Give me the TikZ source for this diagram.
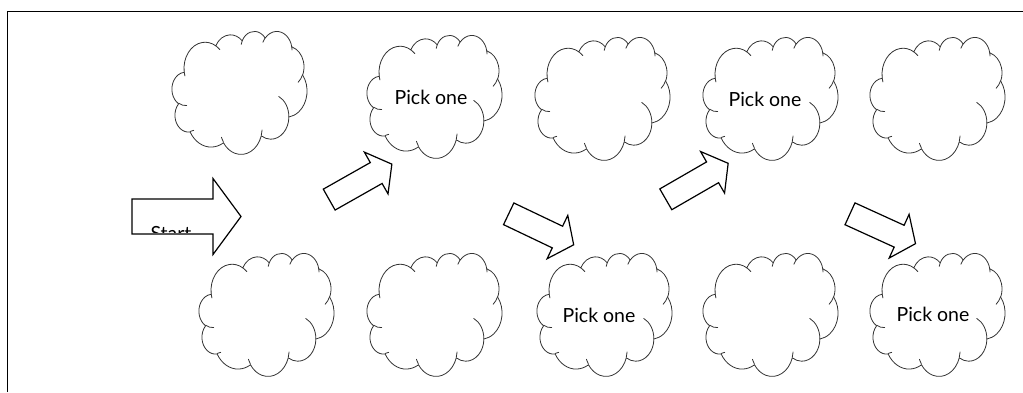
\documentclass[tikz,border=0pt]{standalone}
\usepackage{fontspec}
\newfontfamily\lato{Lato}
\newcommand\drawocloud{%
    \draw[cloudline, fill=white] (3.9,14.37)
      arc[oarc={6.753}{9.19}{-190.4875}{123.7805}]
      arc[oarc={5.333}{7.267}{-144.1024}{89.9452}]
      arc[oarc={4.365}{5.945}{-145.8079}{99.7230}]
      arc[oarc={4.857}{6.595}{-130.9861}{117.2417}]
      arc[oarc={5.333}{7.273}{-78.7089}{109.0269}]
      arc[oarc={6.775}{9.22}{-46.2673}{130.2690}]
      arc[oarc={5.785}{7.867}{0.6250}{114.0333}]
      arc[oarc={6.752}{9.215}{22.4516}{115.1726}]
      arc[oarc={7.72}{10.543}{66.2426}{75.7110}]
      arc[oarc={4.36}{5.918}{-274.9421}{146.7356}]
      arc[oarc={4.345}{5.945}{-246.8285}{152.5189}]
      -- cycle;
    \draw[cloudline]
      (4.693,26.177) arc[oarc={4.345}{5.945}{86.7420}{26.4295}]
      (6.928,34.899) arc[oarc={4.36}{5.918}{73.6105}{11.4475}]
      (16.478,39.09) arc[oarc={6.752}{9.215}{137.6242}{14.0811}]
      (28.827,34.751) arc[oarc={6.752}{9.215}{6.4533}{15.9984}]
      (34.129,22.954) arc[oarc={5.785}{7.867}{-70.2924}{70.9174}]
      (41.798,15.354) arc[oarc={5.333}{7.273}{30.3180}{27.7515}]
      (38.324,5.426) arc[oarc={4.857}{6.595}{-13.7443}{14.8589}]
      (29.078,3.952) arc[oarc={4.857}{6.595}{-149.1815}{18.1954}]
      (22.141,4.72) arc[oarc={4.365}{5.945}{-163.4943}{17.6864}]
      (14.0,5.192) arc[oarc={6.753}{9.19}{-66.7070}{12.3194}]
      (4.127,15.789) arc[oarc={6.753}{9.19}{157.6544}{11.8582}];
}
\begin{document}
\begin{tikzpicture}[x=1pt,y=1pt,yscale=-1,
  declare function={pa(\xw,\xh,\xa)=atan2(\xw*sin(\xa),\xh*cos(\xa));
    pd(\xw,\xh,\xa,\xs)=mod(pa(\xw,\xh,\xa+\xs)-pa(\xw,\xh,\xa)+720,360);},
  cloudline/.style={draw=black!80, line width=0.8pt, line join=round, line cap=round},
  oarc/.style n args={4}{x radius=#1pt, y radius=#2pt, start angle={pa(#1,#2,#3)}, delta angle={pd(#1,#2,#3,#4)}},
  blk/.style={draw=black, line width=1.2pt, fill=white, line join=miter},
  lbl/.style={font=\lato\fontsize{19.5}{20}\selectfont, inner sep=0pt, anchor=base}]
\useasboundingbox (0,0) rectangle (1023,392);
% frame
\draw[line width=1.5pt] (7.5,392) -- (7.5,11.5) -- (1023,11.5);
% clouds, top row
\foreach \cx/\cy [count=\i] in {172/31,367/35,535/37,703/37,870/37}{
  \begin{scope}[shift={(\cx,\cy)}, xscale=3.125, yscale=2.847]
    \drawocloud
  \end{scope}
  \coordinate (top\i) at (\cx+67.5,\cy+61.5);
}
% clouds, bottom row
\foreach \cx/\cy [count=\i] in {199/253,367/253,537/253,703/253,870/253}{
  \begin{scope}[shift={(\cx,\cy)}, xscale=3.125, yscale=2.847]
    \drawocloud
  \end{scope}
  \coordinate (bot\i) at (\cx+67.5,\cy+61.5);
}
% start arrow
\draw[blk] (132,199) -- (213,199) -- (213,178.5) -- (241,216.5) -- (213,254.5) -- (213,234) -- (132,234) -- cycle;
\begin{scope}
  \clip (132,199) rectangle (213,232.3);
  \node[lbl] (start) at (171,240) {Start};
\end{scope}
% step arrows
\foreach \tx/\ty/\ang in {329.2/199.6/-29.5, 508.7/213.8/25.5, 665.8/199.3/-30, 850/213.8/24.5}{
  \begin{scope}[shift={(\tx,\ty)}, rotate=\ang]
    \draw[blk] (0,-12) -- (54,-12) -- (54,-24) -- (72,0) -- (54,24) -- (54,12) -- (0,12) -- cycle;
  \end{scope}
}
% labels
\node[lbl] (p1) at (431,104) {Pick one};
\node[lbl] (p2) at (765,106) {Pick one};
\node[lbl] (p3) at (599,322) {Pick one};
\node[lbl] (p4) at (933,321.7) {Pick one};
\end{tikzpicture}
\end{document}
